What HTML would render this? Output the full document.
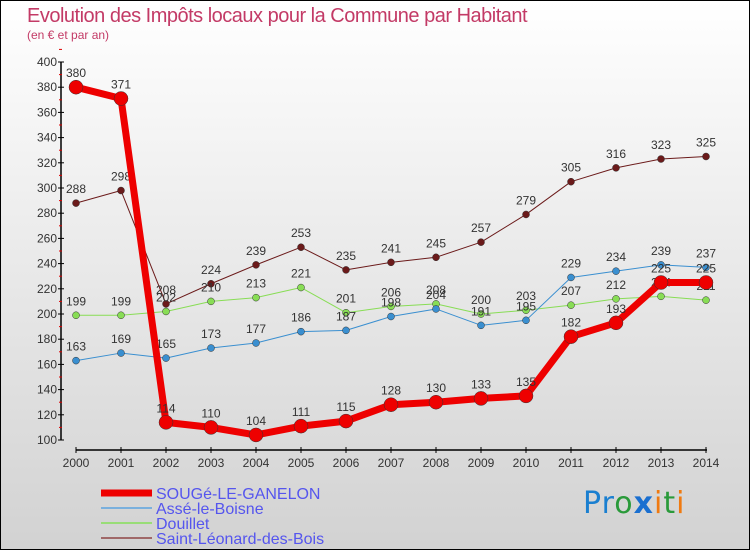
<!DOCTYPE html>
<html><head><meta charset="utf-8"><style>
body{margin:0;}
#wrap{position:relative;width:748px;height:548px;border:1px solid #000;background:linear-gradient(#fff,#d2d2d2);font-family:"Liberation Sans",sans-serif;overflow:hidden}
.t{position:absolute;color:#c33a66}
</style></head><body>
<div id="wrap">
<div class="t" style="left:26px;top:4px;font-size:20px;letter-spacing:-0.5px">Evolution des Impôts locaux pour la Commune par Habitant</div>
<div class="t" style="left:26px;top:27px;font-size:12px">(en € et par an)</div>
<svg id="c" width="748" height="548" style="position:absolute;left:0;top:0"></svg>
<div style="position:absolute;left:582px;top:485px;font-size:30px;font-family:'DejaVu Sans',sans-serif;letter-spacing:1px"><span style="color:#1a7fd0">Pr</span><span style="color:#2a9a3a">o</span><span style="color:#1a6fd0;font-weight:bold">x</span><span style="color:#f07a10">i</span><span style="color:#2a9a3a">t</span><span style="color:#f07a10">i</span></div>
</div>
<script>
const years=[2000,2001,2002,2003,2004,2005,2006,2007,2008,2009,2010,2011,2012,2013,2014];
const souge=[380,371,114,110,104,111,115,128,130,133,135,182,193,225,225];
const asse=[163,169,165,173,177,186,187,198,204,191,195,229,234,239,237];
const douillet=[199,199,202,210,213,221,201,206,208,200,203,207,212,214,211];
const saintL=[288,298,208,224,239,253,235,241,245,257,279,305,316,323,325];
const yTicks=[100,120,140,160,180,200,220,240,260,280,300,320,340,360,380,400];
const NS="http://www.w3.org/2000/svg";
const svg=document.getElementById('c');
const x=i=>75+i*(630/14);
const y=v=>439-(v-100)*(378/300);
function mk(t,a){const e=document.createElementNS(NS,t);for(const k in a)e.setAttribute(k,a[k]);svg.appendChild(e);return e;}
let e=mk('line',{x1:60,y1:y(400),x2:60,y2:y(100),stroke:'#000','stroke-width':1.5});


yTicks.forEach(v=>{
 const l=mk('line',{x1:57,x2:63,y1:y(v),y2:y(v),stroke:'#000'});
 
 
 const m=mk('line',{x1:58,x2:61,y1:y(v+10),y2:y(v+10),stroke:'#d00'});
 
 
 const t=mk('text',{x:56,y:y(v)+4,'text-anchor':'end','font-size':12,fill:'#333'});t.textContent=v;
 
 
});
e=mk('line',{x1:75,y1:449,x2:706,y2:449,stroke:'#000','stroke-width':1.5});


years.forEach((yr,i)=>{
 const l=mk('line',{x1:x(i),x2:x(i),y1:446,y2:452,stroke:'#000'});
 
 
 const t=mk('text',{x:x(i),y:466,'text-anchor':'middle','font-size':12,fill:'#333'});t.textContent=yr;
 
 
});
function series(d,col,w,r,name){
 const p=mk('polyline',{points:d.map((v,i)=>x(i)+','+y(v)).join(' '),fill:'none',stroke:col,'stroke-width':w,'stroke-linejoin':'round'});
 
 
 d.forEach((v,i)=>{
  const c=mk('circle',{cx:x(i),cy:y(v),r:r,fill:col,stroke:'#333','stroke-width':0.5});
  
  
  const t=mk('text',{x:x(i),y:y(v)-10,'text-anchor':'middle','font-size':12,fill:'#333'});t.textContent=v;
  
  
 });
}
series(saintL,'#6b1a1a',1,3.5,'saint-leonard');
series(douillet,'#88dd55',1,3.5,'douillet');
series(asse,'#3a8fd0',1,3.5,'asse');
series(souge,'#ee0000',7,7,'souge');
const leg=[['SOUGé-LE-GANELON','#ee0000',7],['Assé-le-Boisne','#7ab0dd',2],['Douillet','#99dd77',2],['Saint-Léonard-des-Bois','#a06868',2]];
leg.forEach((l,i)=>{
 const yy=492+i*15;
 const ln=mk('line',{x1:100,x2:151,y1:yy,y2:yy,stroke:l[1],'stroke-width':l[2]});
 
 
 const t=mk('text',{x:155,y:yy+6,'font-size':16,fill:'#5555ee'});t.textContent=l[0];
 
 
});
</script>
</body></html>
